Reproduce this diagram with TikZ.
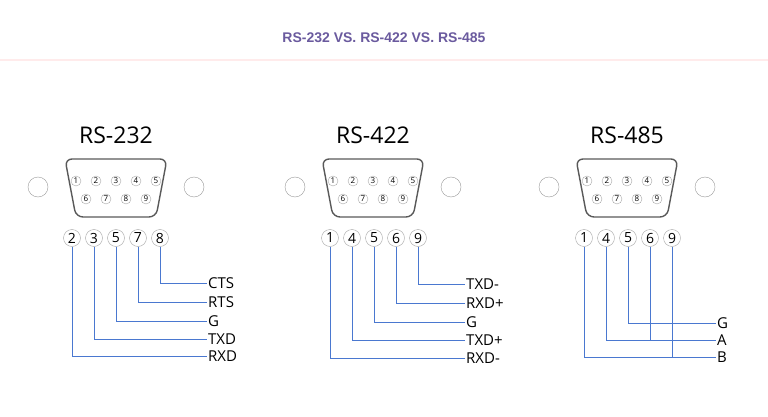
\documentclass[tikz,border=0pt]{standalone}
\usepackage{fontspec}
\setmainfont{Open Sans}
\newfontfamily\titlefont{Liberation Sans}
\definecolor{wire}{HTML}{4A78D0}
\definecolor{heading}{HTML}{6A5A9E}
\tikzset{
  pin/.style={circle,draw=gray!70,inner sep=0pt,minimum size=10pt,font=\fontsize{8}{8}\selectfont},
  pinlabel/.style={circle,draw=gray!70,inner sep=0pt,minimum size=17pt,font=\fontsize{14}{14}\selectfont},
  signal/.style={anchor=west,inner sep=1pt,font=\fontsize{15}{15}\selectfont},
  heading/.style={font=\fontsize{23}{23}\selectfont},
  wire/.style={draw=wire,line width=0.6pt}
}
% connector body with screws and pins, centred at #1
\newcommand{\dbnine}[2]{%
  \begin{scope}[shift={(#1,0)}]
    \draw[line width=1.4pt,rounded corners=7pt,gray!70!black]
      (-51,159) -- (51,159) -- (40,217) -- (-40,217) -- cycle;
    \draw[gray!80] (-78,187) circle (10);
    \draw[gray!80] (78,187) circle (10);
    \foreach \n [count=\i from 0] in {1,...,5}
      \node[pin] (#2p\n) at (-40+20*\i,181) {\n};
    \foreach \n [count=\i from 0] in {6,...,9}
      \node[pin] (#2p\n) at (-30+20*\i,199) {\n};
  \end{scope}}
\begin{document}
\begin{tikzpicture}[x=1pt,y=-1pt]
  \useasboundingbox (0,0) rectangle (768,417);
  \node[font=\titlefont\bfseries\fontsize{14}{14}\selectfont,text=heading] (title) at (384,38) {RS-232 VS. RS-422 VS. RS-485};
  \draw[red!8,line width=1.5pt] (0,60) -- (768,60);

  % RS-232
  \dbnine{116}{a}
  \node[heading] (atitle) at (116,135) {RS-232};
  \foreach \n [count=\i from 0] in {2,3,5,7,8}
    \node[pinlabel] (al\n) at (72+22*\i,238) {\n};
  \foreach \n/\y/\s in {8/283/CTS,7/302/RTS,5/321/G,3/339/TXD,2/356/RXD}{
    \node[signal] (as\n) at (207,\y) {\s};
    \draw[wire] (al\n.south) |- (as\n.west);
  }

  % RS-422
  \dbnine{373}{b}
  \node[heading] (btitle) at (373,135) {RS-422};
  \foreach \n [count=\i from 0] in {1,4,5,6,9}
    \node[pinlabel] (bl\n) at (330+22*\i,238) {\n};
  \foreach \n/\y/\s in {9/284/TXD-,6/303/RXD+,5/322/G,4/340/TXD+,1/358/RXD-}{
    \node[signal] (bs\n) at (465,\y) {\s};
    \draw[wire] (bl\n.south) |- (bs\n.west);
  }

  % RS-485
  \dbnine{627}{c}
  \node[heading] (ctitle) at (627,135) {RS-485};
  \foreach \n [count=\i from 0] in {1,4,5,6,9}
    \node[pinlabel] (cl\n) at (584+22*\i,238) {\n};
  \node[signal] (cG) at (716,323) {G};
  \node[signal] (cA) at (716,340) {A};
  \node[signal] (cB) at (716,357) {B};
  \coordinate (cjA) at (650,340);
  \coordinate (cjB) at (672,357);
  \draw[wire] (cl5.south) |- (cG.west);
  \draw[wire] (cl4.south) |- (cA.west);
  \draw[wire] (cl1.south) |- (cB.west);
  \draw[wire] (cl6.south) -- (cjA);
  \draw[wire] (cl9.south) -- (cjB);
\end{tikzpicture}
\end{document}
